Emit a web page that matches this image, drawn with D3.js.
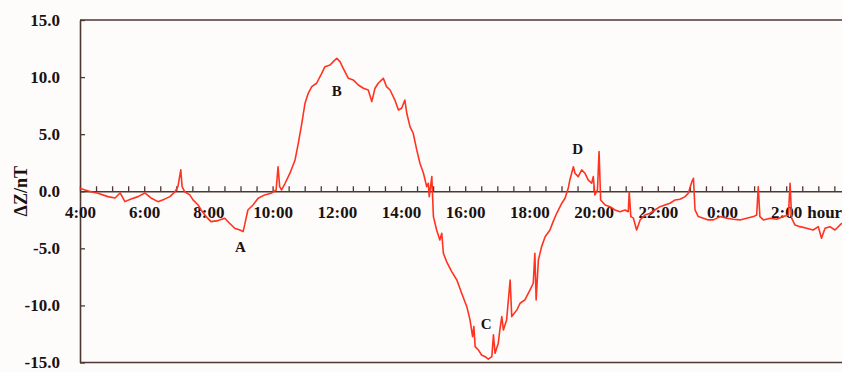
<!DOCTYPE html>
<html>
<head>
<meta charset="utf-8">
<title>ΔZ 日变化</title>
<style>
  body { margin: 0; background: #fdfcfb; }
  svg { display: block; }
  text { font-family: "Liberation Serif", "Times New Roman", serif; font-weight: bold; fill: #1a1210; }
</style>
</head>
<body>
<main></main>
<script src="https://cdn.jsdelivr.net/npm/d3@7/dist/d3.min.js"></script>
<script>
// 数据 ===============================
// 时间: 从 4:00 起算的小时数; dz: ΔZ (nT)
var hours = [0.00, 0.16, 0.34, 0.56, 0.87, 1.09, 1.25, 1.40, 1.59, 1.81, 2.02, 2.21, 2.43, 2.65, 2.80, 2.96, 3.05, 3.14, 3.18, 3.26,
  3.42, 3.52, 3.68, 3.77, 3.93, 4.08, 4.30, 4.51, 4.66, 4.82, 4.98, 5.08, 5.13, 5.23, 5.39, 5.55, 5.75, 5.95, 6.11, 6.17,
  6.22, 6.28, 6.39, 6.54, 6.70, 6.80, 6.91, 7.01, 7.11, 7.22, 7.37, 7.53, 7.63, 7.79, 7.89, 8.00, 8.10, 8.20, 8.36, 8.51,
  8.67, 8.83, 8.98, 9.09, 9.19, 9.29, 9.45, 9.55, 9.66, 9.81, 9.92, 10.02, 10.12, 10.18, 10.28, 10.38, 10.49, 10.59, 10.70, 10.80,
  10.85, 10.88, 10.96, 11.01, 11.11, 11.21, 11.27, 11.32, 11.42, 11.58, 11.74, 11.89, 12.05, 12.15, 12.23, 12.27, 12.31, 12.41, 12.51, 12.62,
  12.72, 12.83, 12.88, 12.93, 13.03, 13.08, 13.14, 13.19, 13.29, 13.40, 13.45, 13.61, 13.71, 13.86, 14.02, 14.12, 14.17, 14.21, 14.28, 14.38,
  14.49, 14.64, 14.74, 14.85, 15.01, 15.11, 15.21, 15.26, 15.37, 15.42, 15.52, 15.63, 15.73, 15.83, 15.94, 15.99, 16.04, 16.12, 16.17, 16.22,
  16.36, 16.51, 16.67, 16.82, 16.98, 17.08, 17.11, 17.16, 17.24, 17.34, 17.45, 17.60, 17.76, 17.91, 18.07, 18.22, 18.38, 18.54, 18.69, 18.85,
  18.95, 19.06, 19.11, 19.16, 19.26, 19.42, 19.57, 19.73, 19.94, 20.15, 20.35, 20.56, 20.77, 20.98, 21.08, 21.13, 21.18, 21.29, 21.50, 21.70,
  21.91, 22.07, 22.12, 22.17, 22.27, 22.43, 22.64, 22.84, 23.00, 23.10, 23.21, 23.36, 23.52, 23.68, 23.74];
var dz = [0.26, 0.11, -0.04, -0.18, -0.47, -0.59, -0.15, -0.91, -0.67, -0.47, -0.15, -0.59, -0.91, -0.67, -0.47, -0.04, 0.40, 1.87, 0.40, -0.04,
  -0.32, -0.76, -1.20, -1.64, -2.22, -2.66, -2.57, -2.36, -2.80, -3.24, -3.39, -3.54, -2.95, -1.64, -1.20, -0.61, -0.32, -0.18, 0.11, 2.15,
  0.40, 0.11, 0.70, 1.58, 2.74, 4.20, 5.95, 7.71, 8.58, 9.16, 9.46, 10.33, 10.91, 11.06, 11.35, 11.65, 11.35, 10.77, 9.89, 9.75,
  9.31, 9.02, 8.87, 7.85, 9.02, 9.46, 9.89, 9.16, 8.87, 7.99, 7.12, 7.27, 7.99, 6.83, 5.66, 5.08, 3.62, 2.45, 1.58, 0.40,
  0.70, -0.47, 1.28, -2.22, -3.39, -4.27, -3.68, -5.43, -6.16, -7.04, -7.77, -8.93, -10.11, -11.27, -12.73, -11.86, -13.61, -13.90, -14.34, -14.49,
  -14.71, -14.49, -12.58, -14.19, -13.31, -12.15, -10.98, -12.15, -11.27, -7.77, -10.98, -10.39, -9.81, -9.52, -8.64, -8.06, -5.43, -9.52, -6.02, -4.85,
  -3.98, -3.39, -2.66, -1.93, -1.05, -0.61, 0.26, 0.99, 2.15, 1.58, 1.28, 1.87, 1.58, 0.99, 0.70, 1.28, -0.32, 0.11, 3.47, -0.76,
  -1.20, -1.35, -1.64, -1.79, -1.64, -1.79, -0.04, -2.22, -2.36, -3.39, -2.51, -2.08, -1.93, -1.64, -1.35, -1.20, -1.05, -0.76, -0.70, -0.47,
  -0.18, 0.84, 1.14, -1.64, -2.22, -2.36, -2.51, -2.51, -2.22, -2.36, -2.45, -2.51, -2.36, -2.22, -2.08, 0.40, -2.22, -2.51, -2.36, -2.45,
  -2.22, -2.08, 0.70, -2.36, -2.95, -3.10, -3.24, -3.39, -3.10, -4.12, -3.24, -3.10, -3.39, -2.95, -2.80];
var yTicks = [-15, -10, -5, 0, 5, 10, 15];
var marks = [{name: "A", h: 5.0, v: -4.9}, {name: "B", h: 8.0, v: 8.8}, {name: "C", h: 12.65, v: -11.6}, {name: "D", h: 15.5, v: 3.7}];

// 参数 ===============================
var width = 842, height = 372;
var padding = {left: 80, top: 20, bottom: 362.5};
var hourPx = 32.1;
var axisColor = "#4d3832";

var svg = d3.select("main").append("svg")
    .attr("width", width)
    .attr("height", height);

var x = d3.scaleLinear().domain([0, 24]).range([padding.left, padding.left + 24 * hourPx]);
var y = d3.scaleLinear().domain([-15, 15]).range([padding.bottom, padding.top]);

// 上下边框
svg.append("line").attr("x1", padding.left).attr("x2", width).attr("y1", y(15)).attr("y2", y(15))
    .attr("stroke", axisColor).attr("stroke-width", 1.6);
svg.append("line").attr("x1", padding.left).attr("x2", width).attr("y1", y(-15)).attr("y2", y(-15))
    .attr("stroke", axisColor).attr("stroke-width", 1.6);

// y 轴
var yAxis = svg.append("g")
    .attr("transform", "translate(" + padding.left + ",0)")
    .call(d3.axisLeft(y).tickValues(yTicks).tickSizeInner(-5).tickSizeOuter(0).tickPadding(20)
        .tickFormat(function (d) { return d.toFixed(1); }));

// x 轴 (0 nT 处)
var xAxis = svg.append("g")
    .attr("transform", "translate(0," + y(0) + ")")
    .call(d3.axisBottom(x).tickValues(d3.range(0, 24, 0.5)).tickSizeInner(-5).tickSizeOuter(0).tickPadding(15)
        .tickFormat(function (d) { return d % 2 === 0 ? ((4 + d) % 24) + ":00" : ""; }));

[yAxis, xAxis].forEach(function (g) {
    g.attr("font-family", null).attr("font-size", null);
    g.select(".domain").attr("stroke", axisColor).attr("stroke-width", 1.6);
    g.selectAll(".tick line").attr("stroke", axisColor).attr("stroke-width", 1.3);
    g.selectAll("text").attr("fill", "#1a1210").attr("font-size", "17px");
});

svg.append("text")
    .attr("x", x(22) + 21)
    .attr("y", y(0) + 15)
    .attr("dy", "0.71em")
    .attr("font-size", "17px")
    .text("hour");

// y 轴标题
svg.append("text")
    .attr("transform", "translate(27," + y(0) + ") rotate(-90)")
    .attr("text-anchor", "middle")
    .attr("font-size", "18px")
    .text("ΔZ/nT");

// 曲线
var line = d3.line()
    .x(function (d, i) { return x(hours[i]); })
    .y(function (d) { return y(d); });

svg.append("path")
    .datum(dz)
    .attr("fill", "none")
    .attr("stroke", "#ff3320")
    .attr("stroke-width", 1.6)
    .attr("stroke-linejoin", "round")
    .attr("d", line);

// A B C D 标注
svg.selectAll(".mark")
    .data(marks)
    .enter()
    .append("text")
    .attr("class", "mark")
    .attr("x", function (d) { return x(d.h); })
    .attr("y", function (d) { return y(d.v); })
    .attr("dy", "0.35em")
    .attr("text-anchor", "middle")
    .attr("font-size", "15px")
    .text(function (d) { return d.name; });
</script>
</body>
</html>
